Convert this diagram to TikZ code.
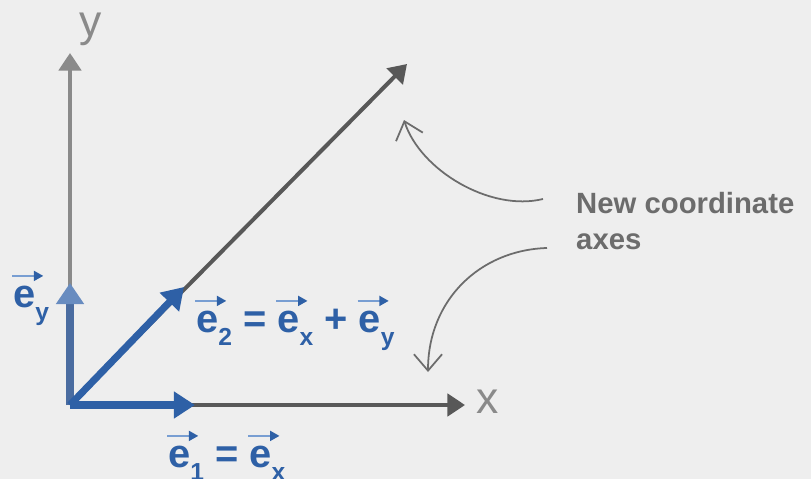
\documentclass[tikz,border=0pt]{standalone}
\usepackage{fontspec}
\setmainfont{Liberation Sans}
\usetikzlibrary{arrows.meta}
\definecolor{bg}{RGB}{238,238,238}
\definecolor{eblue}{RGB}{46,96,166}
\definecolor{lblue}{RGB}{120,158,210}
\definecolor{eyblue}{RGB}{74,108,160}
\definecolor{eyhead}{RGB}{104,140,192}
\definecolor{axlight}{RGB}{138,138,138}
\definecolor{axdark}{RGB}{88,88,88}
\definecolor{notegray}{RGB}{108,108,108}
\tikzset{overarr/.style={draw=lblue, line width=1.6pt, -{Triangle[length=8pt,width=8.5pt,color=eblue]}}}
\newcommand{\vv}[1]{\leavevmode\vbox{\offinterlineskip\halign{##\hfil\cr\rlap{\kern-0.05em\tikz\draw[overarr] (0,0) -- (0.78em,0);}\cr\noalign{\kern4pt}#1\cr}}}
\newcommand{\sub}[1]{\raisebox{-0.33em}{\fontsize{21}{21}\selectfont #1}}

\begin{document}
\begin{tikzpicture}[x=0.03cm, y=-0.03cm,
  axis/.style={line width=3.4pt, -{Triangle[length=15pt,width=19pt]}},
  basis/.style={line width=6pt, draw=eblue, -{Triangle[length=18pt,width=22pt]}},
  lbl/.style={anchor=base west, inner sep=0pt, text=eblue, font=\fontsize{34}{36}\selectfont\bfseries},
  axlbl/.style={inner sep=0pt, text=axlight, font=\fontsize{38}{40}\selectfont},
  note/.style={draw=notegray, line width=1.5pt, -{Straight Barb[length=14pt,width=24pt]}}]
\fill[bg] (0,0) rectangle (811,479);
\useasboundingbox (0,0) rectangle (811,479);
\coordinate (o) at (70,405);
\coordinate (ytip) at (70,53);
\coordinate (xtip) at (465,405);
\coordinate (dtip) at (407,64);
\coordinate (e1tip) at (195,405);
\coordinate (eytip) at (70,283);
\coordinate (e2tip) at (184,287);
\draw[axis, draw=axlight] (o) -- (ytip);
\draw[axis, draw=axdark] (o) -- (xtip);
\draw[axis, draw=axdark] (o) -- (dtip);
\draw[line width=6pt, draw=eyblue, -{Triangle[length=18pt,width=23pt,color=eyhead]}] (o) -- (eytip);
\draw[basis] (o) -- (e1tip);
\draw[basis] (o) -- (e2tip);
\node[axlbl, anchor=base west] (ylab) at (79,37) {y};
\node[axlbl, anchor=base west] (xlab) at (476,413) {x};
\node[lbl] (eylab) at (13,307) {\vv{e}\sub{y}};
\node[lbl] (e2lab) at (196,332) {\vv{e}\sub{2} = \vv{e}\sub{x} + \vv{e}\sub{y}};
\node[lbl] (e1lab) at (168,467) {\vv{e}\sub{1} = \vv{e}\sub{x}};
\node[anchor=base west, inner sep=0pt, align=left, text=notegray, font=\fontsize{25}{30}\selectfont\bfseries] (cap) at (576,249) {New coordinate\\axes};
\coordinate (c1) at (543,199);
\coordinate (c2) at (547,248);
\coordinate (t1) at (404,120);
\coordinate (t2) at (428,372);
\draw[note] (c1) .. controls (490,212) and (420,170) .. (t1);
\draw[note] (c2) .. controls (480,250) and (428,300) .. (t2);
\end{tikzpicture}
\end{document}
